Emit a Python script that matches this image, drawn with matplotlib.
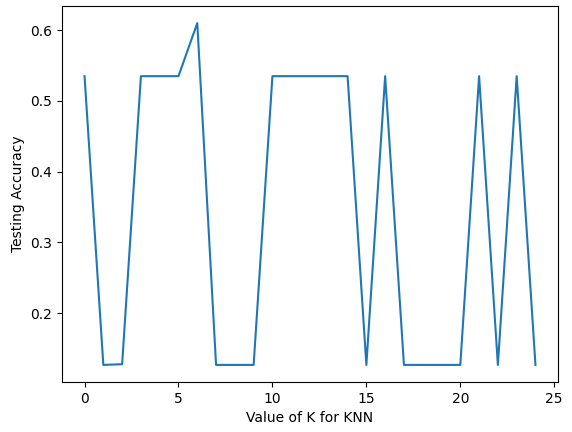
import matplotlib
matplotlib.use("Agg")
import matplotlib.pyplot as plt

k_values = list(range(25))
accuracy = [0.535, 0.127, 0.128, 0.535, 0.535, 0.535, 0.61, 0.127, 0.127, 0.127,
            0.535, 0.535, 0.535, 0.535, 0.535, 0.127, 0.535, 0.127, 0.127, 0.127,
            0.127, 0.535, 0.127, 0.535, 0.127]

fig = plt.figure(figsize=(5.72, 4.32), dpi=100)
ax = fig.add_axes([62/572, 50/432, 496/572, 376/432])
ax.plot(k_values, accuracy)
ax.set_xlabel('Value of K for KNN')
ax.set_ylabel('Testing Accuracy')
fig.savefig('out.png')
